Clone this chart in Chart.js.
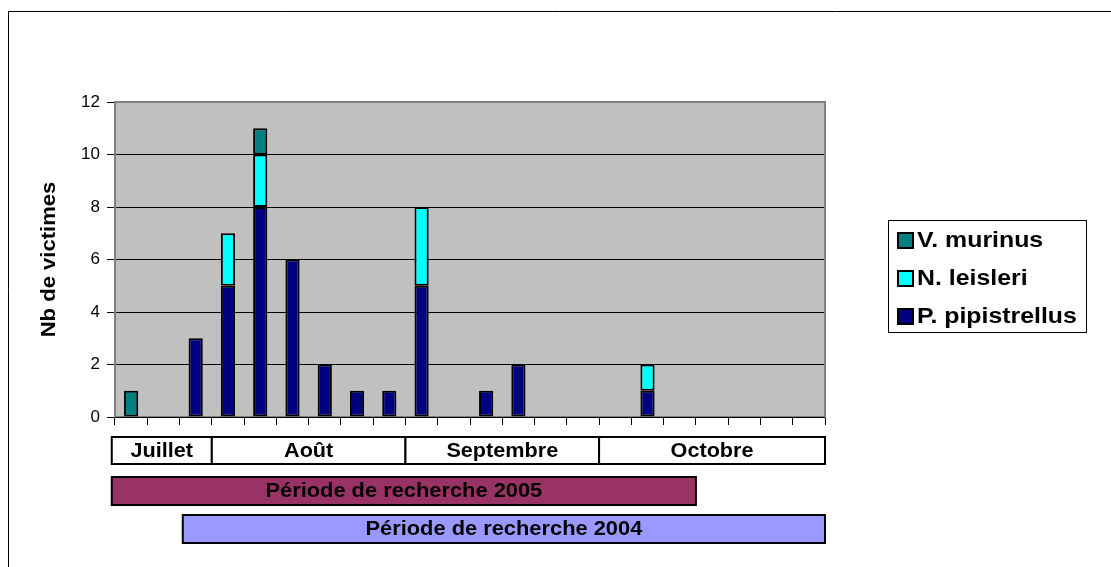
<!DOCTYPE html>
<html>
<head>
<meta charset="utf-8">
<script src="https://cdn.jsdelivr.net/npm/chart.js@4/dist/chart.umd.min.js"></script>
<style>
  body { margin: 0; background: #fff; }
  canvas { display: block; }
</style>
</head>
<body>
<canvas id="barCanvas" width="1111" height="567"></canvas>
<script>
// ------DATA--------
const weeks = ["1", "2", "3", "4", "5", "6", "7", "8", "9", "10", "11",
               "12", "13", "14", "15", "16", "17", "18", "19", "20", "21", "22"];
const pipistrellus = [0, 0, 3, 5, 8, 6, 2, 1, 1, 5, 0, 1, 2, 0, 0, 0, 1, 0, 0, 0, 0, 0];
const leisleri     = [0, 0, 0, 2, 2, 0, 0, 0, 0, 3, 0, 0, 0, 0, 0, 0, 1, 0, 0, 0, 0, 0];
const murinus      = [1, 0, 0, 0, 1, 0, 0, 0, 0, 0, 0, 0, 0, 0, 0, 0, 0, 0, 0, 0, 0, 0];
const yTicks = [0, 2, 4, 6, 8, 10, 12];

// months under the axis, boundaries given in weeks
const months = ["Juillet", "Août", "Septembre", "Octobre"];
const monthBounds = [-0.1, 3, 9, 15, 22];
// search periods, in weeks
const periods = [
    { label: "Période de recherche 2005", from: -0.1, to: 18, color: "#993366" },
    { label: "Période de recherche 2004", from: 2.1, to: 22, color: "#9999FF" }
];

const FONT = "'Liberation Sans', Arial, sans-serif";
Chart.defaults.font.family = FONT;
Chart.defaults.color = "#000";

// text a bit wider than the font, like the original
function wideText(ctx, text, x, y, sx) {
    ctx.save();
    ctx.translate(x, y);
    ctx.scale(sx, 1);
    ctx.fillText(text, 0, 0);
    ctx.restore();
}

// ------DECORATIONS--------
const decor = {
    id: "decor",
    beforeDraw(chart) {
        const { ctx, chartArea: a } = chart;
        ctx.save();
        ctx.fillStyle = "#fff";
        ctx.fillRect(0, 0, chart.width, chart.height);
        ctx.fillStyle = "#C0C0C0";
        ctx.fillRect(a.left, a.top, a.right - a.left, a.bottom - a.top);
        ctx.restore();
    },
    beforeDatasetsDraw(chart) {
        const { ctx, chartArea: a } = chart;
        ctx.save();
        ctx.strokeStyle = "#808080";
        ctx.lineWidth = 2;
        ctx.strokeRect(a.left, a.top, a.right - a.left, a.bottom - a.top);
        ctx.strokeStyle = "#000";
        ctx.lineWidth = 1;
        ctx.beginPath();
        ctx.moveTo(a.left, a.bottom + 0.5);
        ctx.lineTo(a.right, a.bottom + 0.5);
        ctx.stroke();
        ctx.restore();
    },
    afterDraw(chart) {
        const { ctx, chartArea: a } = chart;
        const cw = (a.right - a.left) / weeks.length;
        const wx = w => a.left + w * cw;
        ctx.save();

        // outer frame (top and left)
        ctx.strokeStyle = "#000";
        ctx.lineWidth = 1;
        ctx.beginPath();
        ctx.moveTo(8.5, chart.height);
        ctx.lineTo(8.5, 11.5);
        ctx.lineTo(chart.width, 11.5);
        ctx.stroke();

        // y title
        ctx.save();
        ctx.translate(49, (a.top + a.bottom) / 2);
        ctx.rotate(-Math.PI / 2);
        ctx.font = "bold 21px " + FONT;
        ctx.textAlign = "center";
        ctx.textBaseline = "middle";
        ctx.fillStyle = "#000";
        wideText(ctx, "Nb de victimes", 0, 0, 1.05);
        ctx.restore();

        // month boxes
        ctx.font = "bold 21px " + FONT;
        ctx.textAlign = "center";
        ctx.textBaseline = "middle";
        ctx.lineWidth = 2;
        for (let i = 0; i < months.length; i++) {
            const x0 = wx(monthBounds[i]), x1 = wx(monthBounds[i + 1]);
            ctx.fillStyle = "#fff";
            ctx.fillRect(x0, 437, x1 - x0, 27);
            ctx.strokeStyle = "#000";
            ctx.strokeRect(x0, 437, x1 - x0, 27);
            ctx.fillStyle = "#000";
            wideText(ctx, months[i], (x0 + x1) / 2, 451, 1.03);
        }

        // search periods
        periods.forEach((p, i) => {
            const x0 = wx(p.from), x1 = wx(p.to);
            const y = 477 + i * 38;
            ctx.fillStyle = p.color;
            ctx.fillRect(x0, y, x1 - x0, 28);
            ctx.strokeStyle = "#000";
            ctx.strokeRect(x0, y, x1 - x0, 28);
            ctx.fillStyle = "#000";
            wideText(ctx, p.label, (x0 + x1) / 2, y + 14, 1.04);
        });

        // legend
        ctx.lineWidth = 1;
        ctx.strokeStyle = "#000";
        ctx.strokeRect(888.5, 220.5, 198, 112);
        ctx.font = "bold 22px " + FONT;
        ctx.textAlign = "left";
        const items = chart.data.datasets.slice().reverse();
        items.forEach((ds, i) => {
            const cy = 240 + i * 38;
            ctx.fillStyle = ds.backgroundColor;
            ctx.fillRect(898, cy - 7, 15, 15);
            ctx.lineWidth = 2;
            ctx.strokeRect(898, cy - 7, 15, 15);
            ctx.fillStyle = "#000";
            wideText(ctx, ds.label, 917, cy + 1, 1.13);
        });
        ctx.restore();
    }
};

// ------CHART--------
const barCanvas = document.getElementById("barCanvas");

const barChart = new Chart(barCanvas, {
    type: "bar",
    data: {
        labels: weeks,
        datasets: [
            { label: "P. pipistrellus", data: pipistrellus, backgroundColor: "#000080" },
            { label: "N. leisleri", data: leisleri, backgroundColor: "#00FFFF" },
            { label: "V. murinus", data: murinus, backgroundColor: "#008080" }
        ].map(ds => Object.assign(ds, {
            borderColor: "#000",
            borderWidth: 2,
            borderSkipped: false,
            categoryPercentage: 1,
            barPercentage: 0.44
        }))
    },
    options: {
        responsive: false,
        animation: false,
        devicePixelRatio: 1,
        layout: { padding: { left: 0, top: 102, right: 286, bottom: 142 } },
        plugins: {
            legend: { display: false },
            tooltip: { enabled: false }
        },
        scales: {
            x: {
                stacked: true,
                border: { display: false },
                grid: { offset: true, drawOnChartArea: false, drawTicks: true, tickLength: 8, color: "#000" },
                ticks: { display: false },
                afterFit: s => { s.height = 8; }
            },
            y: {
                stacked: true,
                min: yTicks[0],
                max: yTicks[yTicks.length - 1],
                border: { display: false },
                grid: { color: "#000", lineWidth: 1, drawTicks: true, tickLength: 8 },
                ticks: {
                    stepSize: yTicks[1] - yTicks[0],
                    padding: 7,
                    font: { size: 17 },
                    color: "#000"
                },
                afterFit: s => { s.width = 115; }
            }
        }
    },
    plugins: [decor]
});
</script>
</body>
</html>
